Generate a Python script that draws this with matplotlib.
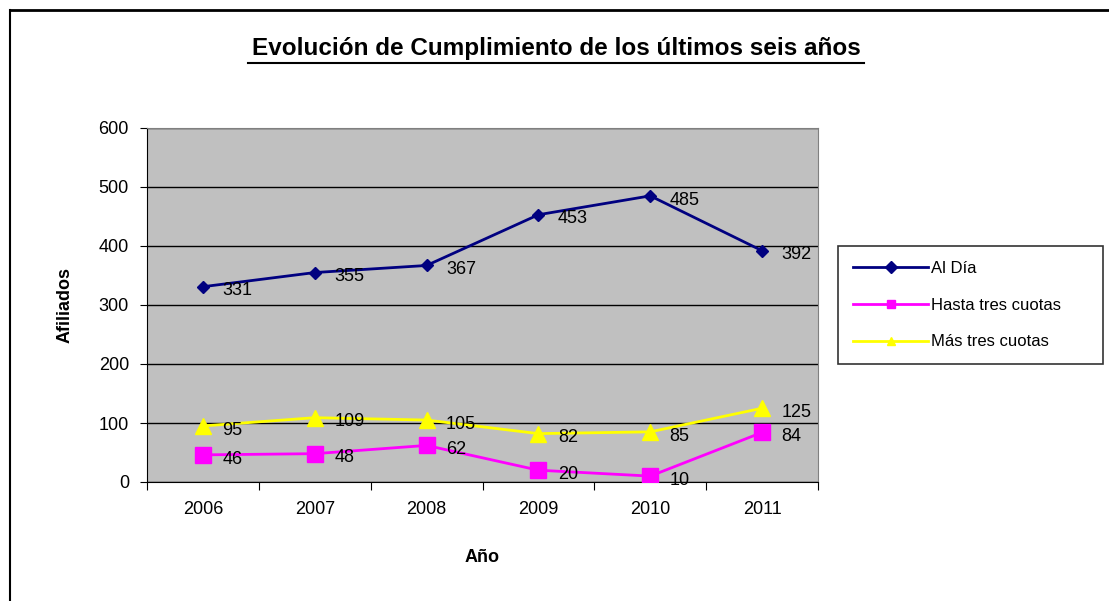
import matplotlib.pyplot as plt
import numpy as np

plt.rcParams['font.family'] = ['Liberation Sans', 'DejaVu Sans']

years = ["2006", "2007", "2008", "2009", "2010", "2011"]
al_dia = [331, 355, 367, 453, 485, 392]
hasta_tres = [46, 48, 62, 20, 10, 84]
mas_tres = [95, 109, 105, 82, 85, 125]

fig = plt.figure(figsize=(11.09, 6.01), dpi=100)
ax = fig.add_axes([147 / 1109, 1 - 482 / 601, 671 / 1109, 354 / 601])
ax.set_facecolor("#C0C0C0")

x = np.arange(len(years))
series = [
    (al_dia, "Al Día", "#000080", "D", 6),
    (hasta_tres, "Hasta tres cuotas", "#FF00FF", "s", 11),
    (mas_tres, "Más tres cuotas", "#FFFF00", "^", 11),
]
for vals, name, col, mk, ms in series:
    ax.plot(x, vals, color=col, lw=2, marker=mk, ms=ms, label=name, zorder=3)
    for xi, v in zip(x, vals):
        ax.annotate(str(v), (xi, v), xytext=(14, -3), textcoords="offset points",
                    fontsize=13, va="center", ha="left", zorder=4)

ax.set_xlim(-0.5, 5.5)
ax.set_ylim(0, 600)
ax.set_yticks(range(0, 601, 100))
ax.yaxis.grid(True, color="black", lw=1)
ax.set_axisbelow(True)
ax.set_xticks(np.arange(-0.5, 6, 1))
ax.set_xticklabels([])
ax.set_xticks(x, minor=True)
ax.set_xticklabels(years, minor=True, fontsize=13)
ax.tick_params(axis="x", which="minor", length=0, pad=14)
ax.tick_params(axis="x", which="major", length=6, direction="out")
ax.tick_params(axis="y", length=5, labelsize=13, pad=8)
for side in ["top", "right"]:
    ax.spines[side].set_color("#808080")
ax.spines["left"].set_color("black")
ax.spines["bottom"].set_color("black")

ax.set_ylabel("Afiliados", fontsize=13, fontweight="bold", labelpad=18)
ax.set_xlabel("Año", fontsize=13, fontweight="bold", labelpad=22)

fig.text(556 / 1109, 1 - 48 / 601, "Evolución de Cumplimiento de los últimos seis años",
         ha="center", va="center", fontsize=17.5, fontweight="bold")
fig.add_artist(plt.Line2D([248 / 1109, 864 / 1109], [1 - 63 / 601, 1 - 63 / 601],
                          color="black", lw=1.5))

leg = fig.legend(loc="upper left",
                 bbox_to_anchor=(838 / 1109, 1 - 365 / 601, 265 / 1109, 119 / 601),
                 mode="expand", frameon=True, fancybox=False, edgecolor="black",
                 fontsize=12, handlelength=4.5, labelspacing=1.3, borderpad=0.9,
                 handletextpad=0.2, borderaxespad=0)
leg.get_frame().set_linewidth(1.2)
for h in leg.legend_handles:
    h.set_markersize(6)

# outer chart frame (partly cut off in the original)
fig.add_artist(plt.Line2D([10 / 1109, 1], [1 - 10 / 601, 1 - 10 / 601], color="black", lw=2))
fig.add_artist(plt.Line2D([10 / 1109, 10 / 1109], [0, 1 - 10 / 601], color="black", lw=1.5))

fig.savefig("out.png", dpi=100)
